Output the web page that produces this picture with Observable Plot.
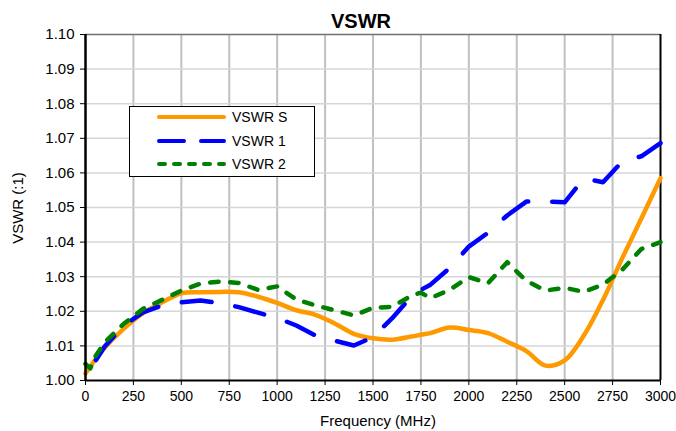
<!DOCTYPE html>
<html><head><meta charset="utf-8">
<script src="https://cdn.jsdelivr.net/npm/d3@7"></script>
<script src="https://cdn.jsdelivr.net/npm/@observablehq/plot@0.6"></script>
<style>body{margin:0;background:#fff}</style>
</head><body><div id="chart"></div>
<script>
const freq = [0, 25, 50, 100, 200, 300, 400, 500, 600, 700, 800, 900, 1000, 1100, 1200, 1300, 1400, 1500, 1600, 1700, 1750, 1800, 1900, 2000, 2100, 2200, 2300, 2400, 2500, 2600, 2700, 2800, 2900, 3000];
const vswrS = [1.002, 1.004, 1.006, 1.0095, 1.015, 1.0195, 1.0226, 1.0252, 1.0255, 1.0256, 1.0255, 1.0242, 1.0224, 1.0203, 1.019, 1.0165, 1.0135, 1.0122, 1.0118, 1.0127, 1.0132, 1.0137, 1.0153, 1.0146, 1.0137, 1.0112, 1.0085, 1.0043, 1.0058, 1.013, 1.0233, 1.0353, 1.0468, 1.0585];
const vswr1 = [1.001, 1.003, 1.0055, 1.0098, 1.0159, 1.0197, 1.0217, 1.0226, 1.0231, 1.0224, 1.0212, 1.0196, 1.0181, 1.0159, 1.013, 1.0115, 1.0101, 1.0125, 1.018, 1.0243, 1.0262, 1.0277, 1.0325, 1.0387, 1.0427, 1.0477, 1.0517, 1.0517, 1.0515, 1.0584, 1.0573, 1.0633, 1.0648, 1.0686];
const vswr2 = [1.0048, 1.0035, 1.0068, 1.011, 1.0164, 1.0207, 1.0233, 1.026, 1.028, 1.0286, 1.0282, 1.0262, 1.0272, 1.0234, 1.0217, 1.0203, 1.0188, 1.021, 1.0213, 1.0245, 1.0254, 1.0238, 1.0262, 1.0299, 1.0281, 1.0342, 1.0288, 1.026, 1.0268, 1.0256, 1.0277, 1.032, 1.038, 1.04];
const xTicks = [0, 250, 500, 750, 1000, 1250, 1500, 1750, 2000, 2250, 2500, 2750, 3000];
const yTicks = [1.00, 1.01, 1.02, 1.03, 1.04, 1.05, 1.06, 1.07, 1.08, 1.09, 1.10];
const seriesNames = ["VSWR S", "VSWR 1", "VSWR 2"];
const seriesColors = ["#FF9900", "#0000FF", "#008000"];
const chartTitle = "VSWR";
const xLabel = "Frequency (MHz)";
const yLabel = "VSWR (:1)";

const rows = (vals) => freq.map((f, i) => ({f, v: vals[i]}));
const dashChart = [null, "30,24", "8.5,11.5"];
const dashLegend = [null, "25,17", "6,9"];

const plot = Plot.plot({
  width: 676, height: 431,
  marginLeft: 85, marginRight: 16, marginTop: 34, marginBottom: 51,
  style: {fontFamily: "'Liberation Sans', Arial, sans-serif", fontSize: "14px", background: "#fff", color: "#000", overflow: "visible"},
  x: {domain: [0, 3000], label: null},
  y: {domain: [1.0, 1.1], label: null},
  marks: [
    Plot.ruleX(xTicks.filter(t => t > 0 && t < 3000), {stroke: "#c0c0c0", strokeWidth: 2}),
    Plot.ruleY(yTicks.filter(t => t > 1.0001 && t < 1.0999), {stroke: "#d6d6d6", strokeWidth: 1.5}),
    Plot.ruleY([1.1], {stroke: "#6f6f6f", strokeWidth: 1.5}),
    Plot.ruleX([3000], {stroke: "#000", strokeWidth: 2}),
    Plot.axisX({ticks: xTicks, tickSize: 5, tickPadding: 6, tickFormat: d => String(d), label: null}),
    Plot.axisY({ticks: yTicks, tickSize: 5, tickPadding: 6, tickFormat: d3.format(".2f"), label: null, fontSize: 15}),
    Plot.line(rows(vswrS), {x: "f", y: "v", stroke: seriesColors[0], strokeWidth: 4.5, curve: "catmull-rom", strokeLinejoin: "round"}),
    Plot.line(rows(vswr1), {x: "f", y: "v", stroke: seriesColors[1], strokeWidth: 4.5, strokeDasharray: dashChart[1], strokeDashoffset: -20, strokeLinecap: "round", strokeLinejoin: "round"}),
    Plot.line(rows(vswr2), {x: "f", y: "v", stroke: seriesColors[2], strokeWidth: 4.5, strokeDasharray: dashChart[2], strokeLinecap: "round", strokeLinejoin: "round"}),
    Plot.ruleX([0], {stroke: "#000", strokeWidth: 2.5}),
    Plot.ruleY([1.0], {stroke: "#000", strokeWidth: 2})
  ]
});

const svg = d3.select(plot);
const font = "'Liberation Sans', Arial, sans-serif";
svg.append("text").attr("x", 361).attr("y", 28).attr("text-anchor", "middle")
  .attr("font-family", font).attr("font-size", 20).attr("font-weight", "bold").attr("fill", "#000").text(chartTitle);
svg.append("text").attr("x", 378).attr("y", 426).attr("text-anchor", "middle")
  .attr("font-family", font).attr("font-size", 15).attr("fill", "#000").text(xLabel);
svg.append("text").attr("transform", "translate(23,208) rotate(-90)").attr("text-anchor", "middle")
  .attr("font-family", font).attr("font-size", 15).attr("fill", "#000").text(yLabel);

const lg = svg.append("g");
lg.append("rect").attr("x", 129.5).attr("y", 106.5).attr("width", 185).attr("height", 70)
  .attr("fill", "#fff").attr("stroke", "#000").attr("stroke-width", 1);
const rowY = [117, 141, 164];
seriesNames.forEach((name, i) => {
  const l = lg.append("line").attr("x1", 159).attr("x2", 224).attr("y1", rowY[i]).attr("y2", rowY[i])
    .attr("stroke", seriesColors[i]).attr("stroke-width", 4).attr("stroke-linecap", "round");
  if (dashLegend[i]) l.attr("stroke-dasharray", dashLegend[i]);
  lg.append("text").attr("x", 232).attr("y", rowY[i]).attr("dy", "0.35em").attr("text-anchor", "start")
    .attr("font-family", font).attr("font-size", 14).attr("fill", "#000").text(name);
});

document.getElementById("chart").appendChild(plot);
</script>
</body></html>
